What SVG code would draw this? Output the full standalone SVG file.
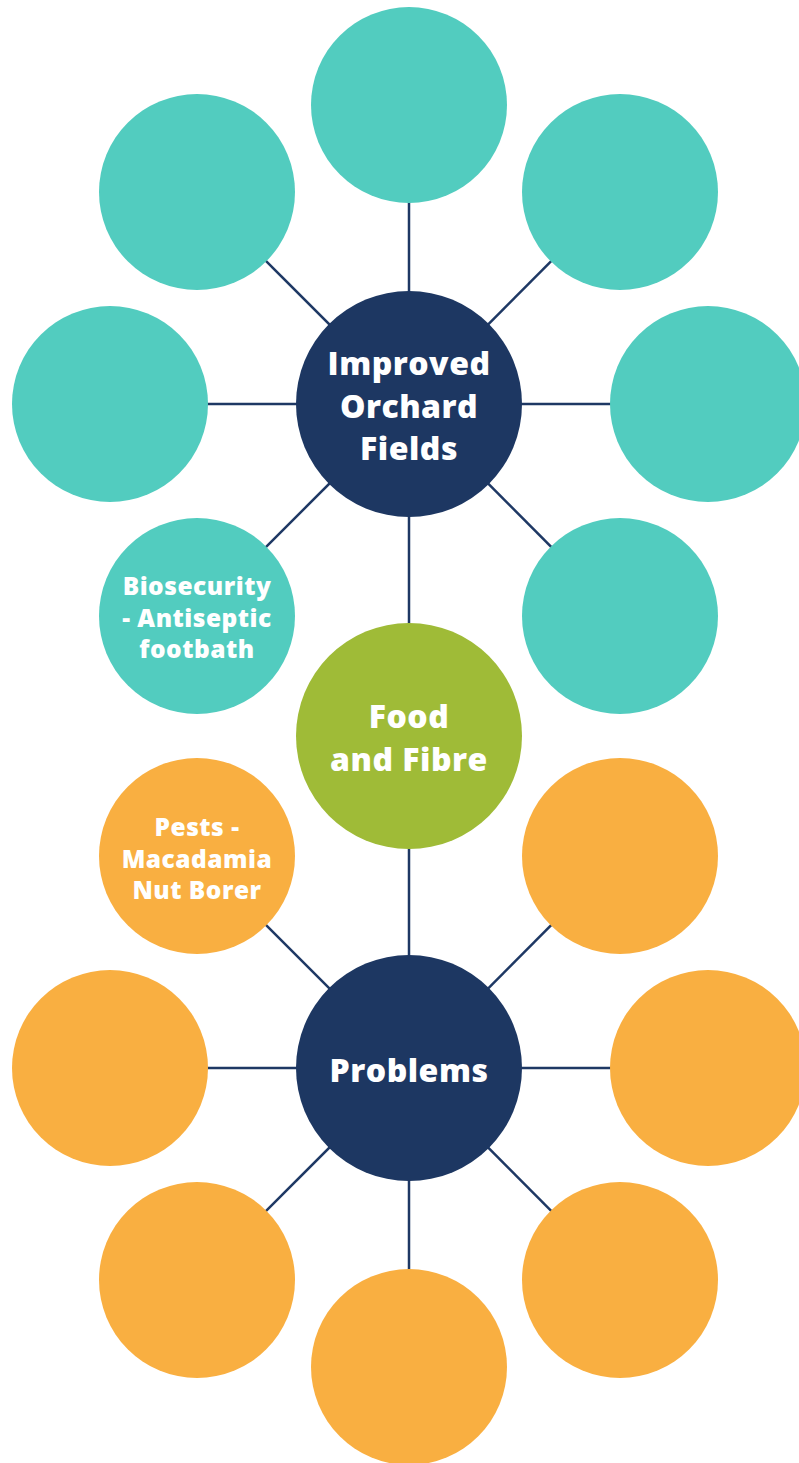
<svg xmlns="http://www.w3.org/2000/svg" width="799" height="1463" viewBox="0 0 799 1463">
  <style>
    .link { stroke: #1e3864; stroke-width: 2.5; fill: none; }
    .hub { fill: #1d3762; }
    .teal { fill: #52ccbf; }
    .green { fill: #9fbb37; }
    .orange { fill: #f9af41; }
    .lbl { font-family: "Open Sans", "Liberation Sans", sans-serif; font-weight: 800; fill: #ffffff; text-anchor: middle; letter-spacing: 0.5px; }
    .big { font-size: 32px; }
    .small { font-size: 24.5px; }
  </style>
  <rect width="799" height="1463" fill="#ffffff"/>
  <g id="connectors">
    <!-- upper hub spokes -->
    <line class="link" x1="409" y1="404" x2="409" y2="105"/>
    <line class="link" x1="409" y1="404" x2="197" y2="192"/>
    <line class="link" x1="409" y1="404" x2="620" y2="192"/>
    <line class="link" x1="409" y1="404" x2="110" y2="404"/>
    <line class="link" x1="409" y1="404" x2="708" y2="404"/>
    <line class="link" x1="409" y1="404" x2="197" y2="616"/>
    <line class="link" x1="409" y1="404" x2="620" y2="616"/>
    <!-- trunk through the middle -->
    <line class="link" x1="409" y1="404" x2="409" y2="1068"/>
    <!-- lower hub spokes -->
    <line class="link" x1="409" y1="1068" x2="197" y2="856"/>
    <line class="link" x1="409" y1="1068" x2="620" y2="856"/>
    <line class="link" x1="409" y1="1068" x2="110" y2="1068"/>
    <line class="link" x1="409" y1="1068" x2="708" y2="1068"/>
    <line class="link" x1="409" y1="1068" x2="197" y2="1280"/>
    <line class="link" x1="409" y1="1068" x2="620" y2="1280"/>
    <line class="link" x1="409" y1="1068" x2="409" y2="1367"/>
  </g>
  <g id="top"><circle class="teal" cx="409" cy="105" r="98"/></g>
  <g id="upper-left"><circle class="teal" cx="197" cy="192" r="98"/></g>
  <g id="upper-right"><circle class="teal" cx="620" cy="192" r="98"/></g>
  <g id="left-upper"><circle class="teal" cx="110" cy="404" r="98"/></g>
  <g id="right-upper"><circle class="teal" cx="708" cy="404" r="98"/></g>
  <g id="biosecurity">
    <circle class="teal" cx="197" cy="616" r="98"/>
    <text class="lbl small" x="197" y="595">Biosecurity</text>
    <text class="lbl small" x="197" y="627">- Antiseptic</text>
    <text class="lbl small" x="197" y="658">footbath</text>
  </g>
  <g id="lower-right-teal"><circle class="teal" cx="620" cy="616" r="98"/></g>
  <g id="improved-orchard-fields">
    <circle class="hub" cx="409" cy="404" r="113"/>
    <text class="lbl big" x="409" y="375">Improved</text>
    <text class="lbl big" x="409" y="418">Orchard</text>
    <text class="lbl big" x="409" y="460">Fields</text>
  </g>
  <g id="food-and-fibre">
    <circle class="green" cx="409" cy="736" r="113"/>
    <text class="lbl big" x="409" y="728">Food</text>
    <text class="lbl big" x="409" y="771">and Fibre</text>
  </g>
  <g id="pests">
    <circle class="orange" cx="197" cy="856" r="98"/>
    <text class="lbl small" x="197" y="836">Pests -</text>
    <text class="lbl small" x="197" y="868">Macadamia</text>
    <text class="lbl small" x="197" y="899">Nut Borer</text>
  </g>
  <g id="upper-right-orange"><circle class="orange" cx="620" cy="856" r="98"/></g>
  <g id="left-lower"><circle class="orange" cx="110" cy="1068" r="98"/></g>
  <g id="right-lower"><circle class="orange" cx="708" cy="1068" r="98"/></g>
  <g id="lower-left"><circle class="orange" cx="197" cy="1280" r="98"/></g>
  <g id="lower-right"><circle class="orange" cx="620" cy="1280" r="98"/></g>
  <g id="bottom"><circle class="orange" cx="409" cy="1367" r="98"/></g>
  <g id="problems">
    <circle class="hub" cx="409" cy="1068" r="113"/>
    <text class="lbl big" x="409" y="1082">Problems</text>
  </g>
</svg>
